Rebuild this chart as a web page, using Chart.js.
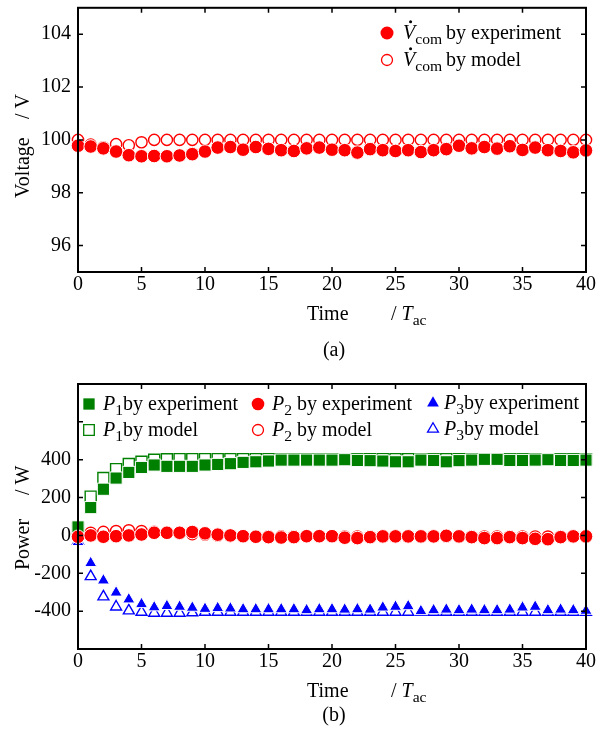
<!DOCTYPE html>
<html><head><meta charset="utf-8">
<script src="https://cdn.jsdelivr.net/npm/chart.js@4.4.1/dist/chart.umd.min.js"></script>
<style>
html,body{margin:0;padding:0;background:#fff;}
#wrap{position:relative;width:609px;height:730px;}
.box{position:absolute;left:0;width:609px;height:365px;}
</style></head><body>
<div id="wrap">
<div class="box" style="top:0"><canvas id="c1"></canvas></div>
<div class="box" style="top:365px"><canvas id="c2"></canvas></div>
</div>
<script>
// ---------- data ----------
const time = [0,1,2,3,4,5,6,7,8,9,10,11,12,13,14,15,16,17,18,19,20,21,22,23,24,25,26,27,28,29,30,31,32,33,34,35,36,37,38,39,40];
const vcomExp = [99.78,99.75,99.68,99.56,99.42,99.38,99.39,99.38,99.41,99.46,99.56,99.71,99.73,99.63,99.73,99.66,99.61,99.58,99.68,99.71,99.63,99.61,99.52,99.65,99.61,99.58,99.61,99.54,99.61,99.65,99.78,99.68,99.73,99.67,99.76,99.62,99.71,99.61,99.58,99.53,99.6];
const vcomModel = [100,99.82,99.72,99.84,99.8,99.91,100,100,100,100,100,100,100,100,100,100,100,100,100,100,100,100,100,100,100,100,100,100,100,100,100,100,100,100,100,100,100,100,100,100,100];
const p1Exp = [45,147,244,303,333,359,372,365,365,365,372,375,379,386,389,393,398,398,398,398,398,400,396,395,393,389,389,398,396,389,395,398,402,402,396,396,398,400,396,396,398];
const p1Model = [40,205,303,350,377,389,400,402,403,403,403,403,403,403,403,403,403,403,403,403,403,403,403,403,403,403,403,403,403,403,403,403,403,403,403,403,403,403,403,403,403];
const p2Exp = [-7,0,-7,-4,0,5,14,14,14,18,11,4,0,-4,-7,-9,-11,-9,-4,-4,-4,-12,-14,-9,-5,-5,-5,-5,-5,-2,-5,-9,-14,-14,-9,-14,-18,-20,-9,-5,-5];
const p2Model = [0,14,19,23,27,23,19,14,11,7,5,0,-3,-5,-5,-5,-5,-5,-5,-5,-5,-6,-6,-6,-6,-6,-6,-6,-6,-6,-6,-6,-6,-6,-6,-6,-6,-6,-6,-6,-6];
const p3Exp = [-35,-146,-238,-302,-338,-363,-380,-373,-377,-382,-388,-384,-386,-390,-390,-390,-390,-390,-395,-390,-390,-392,-390,-392,-381,-377,-374,-400,-395,-392,-395,-392,-395,-395,-392,-381,-377,-395,-392,-395,-398];
const p3Model = [-30,-217,-324,-377,-398,-405,-410,-410,-410,-408,-405,-405,-405,-405,-405,-405,-405,-405,-405,-405,-405,-405,-405,-405,-405,-405,-405,-405,-405,-405,-405,-405,-405,-405,-405,-405,-405,-405,-405,-405,-405];
const xTicks = [0,5,10,15,20,25,30,35,40];
const vTicks = [96,98,100,102,104];
const pTicks = [-400,-200,0,200,400];
const pTickMarks = [-400,-200,0,200,400,600];

// ---------- helpers ----------
const FONT = '"Liberation Serif", "Times New Roman", serif';
const RED = '#ff0000', GREEN = '#008000', BLUE = '#0000ff';
const pts = ys => time.map((t, i) => ({x: t, y: ys[i]}));

function marker(ctx, style, x, y, r, fill, color, bw) {
  ctx.save();
  ctx.beginPath();
  if (style === 'circle') ctx.arc(x, y, r, 0, Math.PI * 2);
  else if (style === 'rect') { const s = r * Math.SQRT1_2; ctx.rect(x - s, y - s, 2 * s, 2 * s); }
  else if (style === 'triangle') {
    let a = 0;
    ctx.moveTo(x + Math.sin(a) * r, y - Math.cos(a) * r);
    a += 2 * Math.PI / 3; ctx.lineTo(x + Math.sin(a) * r, y - Math.cos(a) * r);
    a += 2 * Math.PI / 3; ctx.lineTo(x + Math.sin(a) * r, y - Math.cos(a) * r);
    ctx.closePath();
  }
  if (fill) { ctx.fillStyle = color; ctx.fill(); }
  else { ctx.strokeStyle = color; ctx.lineWidth = bw; ctx.stroke(); }
  ctx.restore();
}

function rich(ctx, x, y, parts, size) {
  let cx = x;
  ctx.textAlign = 'left'; ctx.textBaseline = 'alphabetic'; ctx.fillStyle = '#000';
  for (const p of parts) {
    const fs = p.sub ? size * 0.78 : size;
    ctx.font = (p.it ? 'italic ' : '') + fs + 'px ' + FONT;
    const dy = p.sub ? size * 0.25 : 0;
    ctx.fillText(p.t, cx, y + dy);
    const w = ctx.measureText(p.t).width;
    if (p.dot) { ctx.beginPath(); ctx.arc(cx + w * 0.62, y - size * 0.86, size * 0.075, 0, Math.PI * 2); ctx.fill(); }
    cx += w + (p.gap || 0);
  }
  return cx;
}

const framePlugin = {
  id: 'frame',
  afterDatasetsDraw(chart, args, o) {
    const {ctx, chartArea: a, scales} = chart;
    ctx.save();
    ctx.strokeStyle = '#000';
    ctx.lineWidth = 1.5;
    const L = 5;
    ctx.beginPath();
    for (const v of o.xMarks) {
      const px = scales.x.getPixelForValue(v);
      ctx.moveTo(px, a.bottom); ctx.lineTo(px, a.bottom - L);
      ctx.moveTo(px, a.top); ctx.lineTo(px, a.top + L);
    }
    for (const v of o.yMarks) {
      const py = scales.y.getPixelForValue(v);
      ctx.moveTo(a.left, py); ctx.lineTo(a.left + L, py);
      ctx.moveTo(a.right, py); ctx.lineTo(a.right - L, py);
    }
    ctx.stroke();
    ctx.lineWidth = 2;
    ctx.strokeRect(a.left, a.top, a.right - a.left, a.bottom - a.top);
    ctx.restore();
  },
  afterDraw(chart, args, o) {
    const ctx = chart.ctx;
    ctx.save();
    for (const it of o.legend) {
      marker(ctx, it.style, it.mx, it.my, it.r, it.fill, it.color, 1.3);
      rich(ctx, it.tx, it.my + 6, it.text, 20);
    }
    rich(ctx, o.xTitle.x, o.xTitle.y, [{t: 'Time'}], 20);
    rich(ctx, o.xTitle.x2, o.xTitle.y, [{t: '/ '}, {t: 'T', it: true}, {t: 'ac', sub: true}], 20);
    ctx.save();
    ctx.translate(o.yTitle.x, 0);
    ctx.rotate(-Math.PI / 2);
    ctx.font = '20px ' + FONT; ctx.fillStyle = '#000'; ctx.textBaseline = 'alphabetic';
    ctx.textAlign = 'left';
    ctx.fillText(o.yTitle.t1, -o.yTitle.y1, 0);
    ctx.fillText(o.yTitle.t2, -o.yTitle.y2, 0);
    ctx.restore();
    ctx.font = '20px ' + FONT; ctx.textAlign = 'center'; ctx.fillStyle = '#000';
    ctx.fillText(o.caption.t, o.caption.x, o.caption.y);
    ctx.restore();
  }
};

function noPad(s) { s.paddingTop = 0; s.paddingBottom = 0; s.paddingLeft = 0; s.paddingRight = 0; }

function baseScales(yMin, yMax, yTickVals, xH) {
  return {
    x: {
      type: 'linear', min: 0, max: 40,
      grid: {display: false, drawTicks: false}, border: {display: false},
      afterBuildTicks: s => { s.ticks = xTicks.map(v => ({value: v})); },
      afterFit: s => { s.height = xH; noPad(s); },
      ticks: {color: '#000', font: {family: FONT, size: 20}, padding: 1, maxRotation: 0, autoSkip: false}
    },
    y: {
      type: 'linear', min: yMin, max: yMax,
      grid: {display: false, drawTicks: false}, border: {display: false},
      afterBuildTicks: s => { s.ticks = yTickVals.map(v => ({value: v})); },
      afterFit: s => { s.width = 78; noPad(s); },
      ticks: {color: '#000', font: {family: FONT, size: 20}, padding: 7}
    }
  };
}

function ds(label, ys, style, r, color, filled) {
  return {
    label, data: pts(ys), pointStyle: style, pointRadius: r, pointHoverRadius: r,
    backgroundColor: filled ? color : 'rgba(0,0,0,0)',
    borderColor: filled ? '#ffffff' : color,
    pointBorderWidth: filled ? 1 : 1.4, borderWidth: filled ? 1 : 1.4,
    showLine: false, clip: false
  };
}

// ---------- chart (a) ----------
new Chart(document.getElementById('c1'), {
  type: 'scatter',
  data: {datasets: [
    ds('Vcom by experiment', vcomExp, 'circle', 6.8, RED, true),
    ds('Vcom by model', vcomModel, 'circle', 5.6, RED, false)
  ]},
  options: {
    responsive: true, maintainAspectRatio: false, animation: false,
    layout: {padding: {left: 0, right: 23, top: 6, bottom: 0}},
    scales: baseScales(95, 105, vTicks, 93),
    plugins: {
      legend: {display: false}, tooltip: {enabled: false},
      frame: {
        xMarks: xTicks, yMarks: vTicks,
        legend: [
          {style: 'circle', mx: 387, my: 33, r: 6.5, fill: true, color: RED, tx: 403,
           text: [{t: 'V', it: true, dot: true}, {t: 'com', sub: true, gap: 4}, {t: 'by experiment'}]},
          {style: 'circle', mx: 387, my: 60, r: 5.5, fill: false, color: RED, tx: 403,
           text: [{t: 'V', it: true, dot: true}, {t: 'com', sub: true, gap: 4}, {t: 'by model'}]}
        ],
        xTitle: {x: 307, x2: 391, y: 320},
        yTitle: {x: 29, t1: 'Voltage', y1: 198, t2: '/ V', y2: 119},
        caption: {t: '(a)', x: 334, y: 356}
      }
    }
  },
  plugins: [framePlugin]
});

// ---------- chart (b) ----------
new Chart(document.getElementById('c2'), {
  type: 'scatter',
  data: {datasets: [
    ds('P2 by experiment', p2Exp, 'circle', 6.8, RED, true),
    ds('P3 by experiment', p3Exp, 'triangle', 7, BLUE, true),
    ds('P1 by experiment', p1Exp, 'rect', 8.6, GREEN, true),
    ds('P2 by model', p2Model, 'circle', 5.6, RED, false),
    ds('P3 by model', p3Model, 'triangle', 6.3, BLUE, false),
    ds('P1 by model', p1Model, 'rect', 7.8, GREEN, false)
  ]},
  options: {
    responsive: true, maintainAspectRatio: false, animation: false,
    layout: {padding: {left: 0, right: 23, top: 19, bottom: 0}},
    scales: baseScales(-600, 800, pTicks, 81),
    plugins: {
      legend: {display: false}, tooltip: {enabled: false},
      frame: {
        xMarks: xTicks, yMarks: pTickMarks,
        legend: [
          {style: 'rect', mx: 89, my: 39, r: 8, fill: true, color: GREEN, tx: 103,
           text: [{t: 'P', it: true}, {t: '1', sub: true}, {t: 'by experiment'}]},
          {style: 'rect', mx: 89, my: 65, r: 7.5, fill: false, color: GREEN, tx: 103,
           text: [{t: 'P', it: true}, {t: '1', sub: true}, {t: 'by model'}]},
          {style: 'circle', mx: 258, my: 39, r: 6.3, fill: true, color: RED, tx: 272,
           text: [{t: 'P', it: true}, {t: '2', sub: true, gap: 5}, {t: 'by experiment'}]},
          {style: 'circle', mx: 258, my: 65, r: 5.5, fill: false, color: RED, tx: 272,
           text: [{t: 'P', it: true}, {t: '2', sub: true, gap: 5}, {t: 'by model'}]},
          {style: 'triangle', mx: 433, my: 38, r: 6.8, fill: true, color: BLUE, tx: 444,
           text: [{t: 'P', it: true}, {t: '3', sub: true}, {t: 'by experiment'}]},
          {style: 'triangle', mx: 433, my: 64, r: 6.3, fill: false, color: BLUE, tx: 444,
           text: [{t: 'P', it: true}, {t: '3', sub: true}, {t: 'by model'}]}
        ],
        xTitle: {x: 307, x2: 391, y: 332},
        yTitle: {x: 29, t1: 'Power', y1: 205, t2: '/ W', y2: 130},
        caption: {t: '(b)', x: 334, y: 356}
      }
    }
  },
  plugins: [framePlugin]
});
</script>
</body></html>
